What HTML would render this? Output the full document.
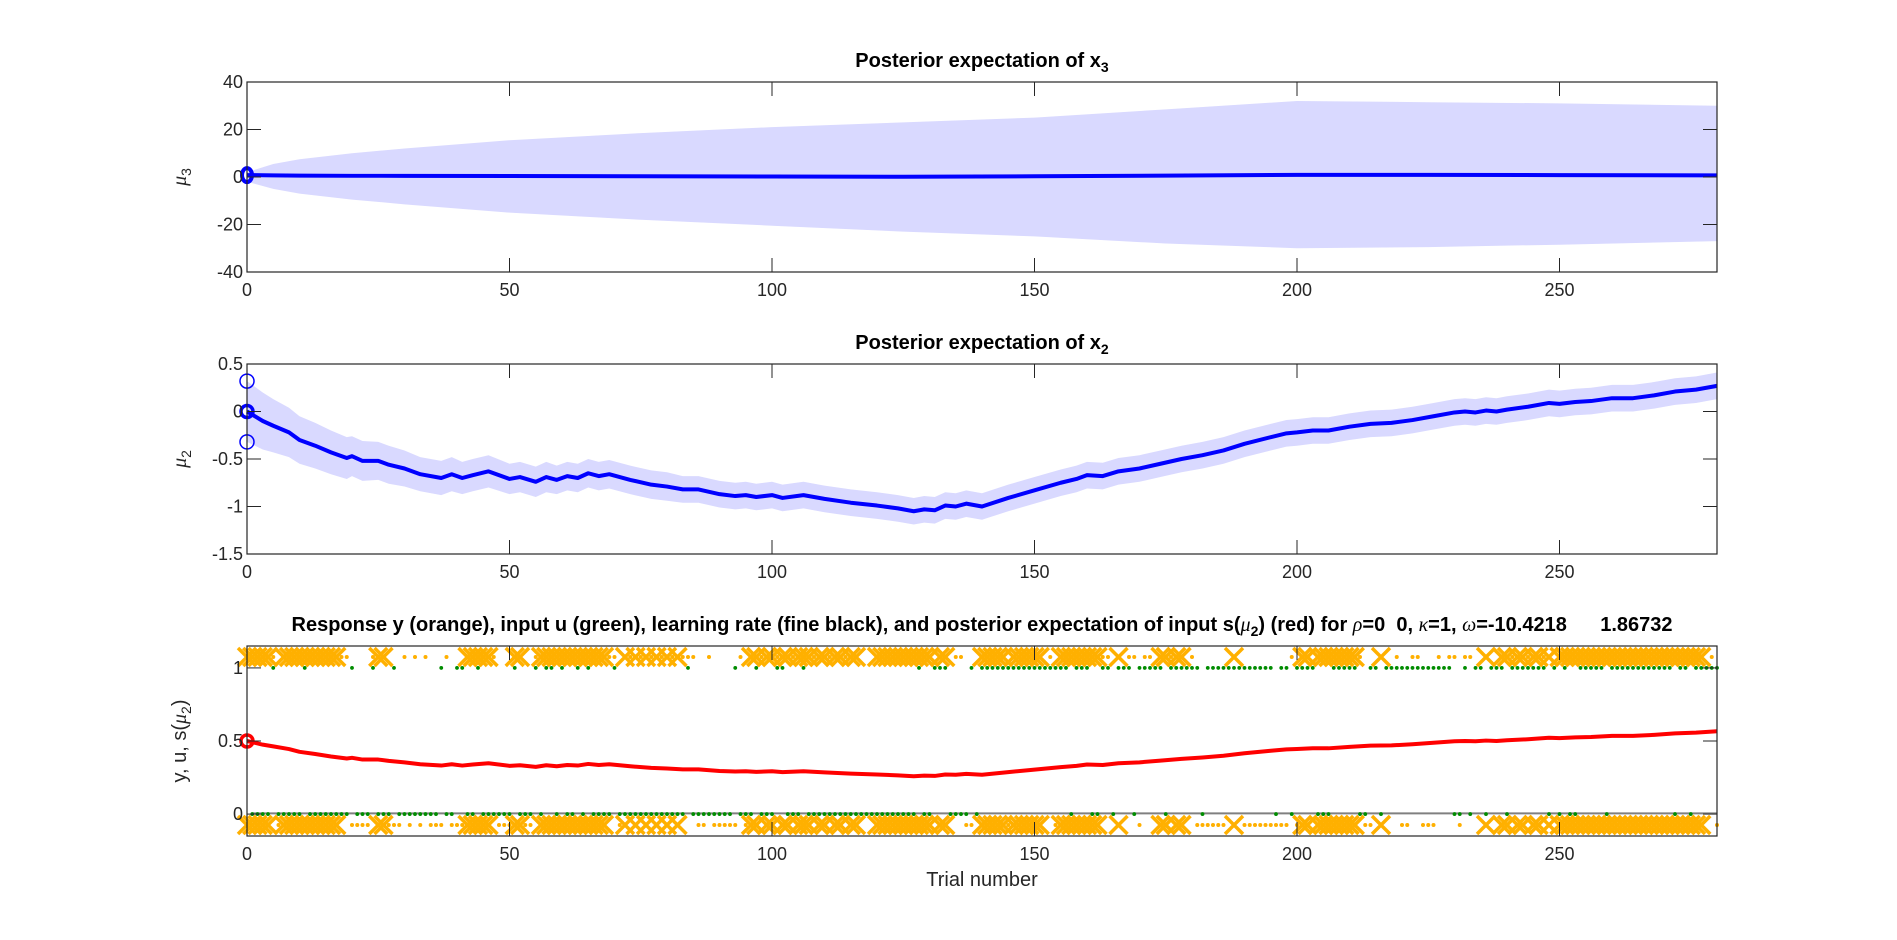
<!DOCTYPE html>
<html><head><meta charset="utf-8"><style>
html,body{margin:0;padding:0;background:#fff;}
svg{display:block;font-family:"Liberation Sans",Arial,sans-serif;}
</style></head><body>
<svg id="fig" width="1897" height="940" viewBox="0 0 1897 940" xmlns="http://www.w3.org/2000/svg"></svg>
<script>
// ---- data ----
const xTicks = [0, 50, 100, 150, 200, 250];
const p1YTicks = [40, 20, 0, -20, -40];
const p2YTicks = [0.5, 0, -0.5, -1, -1.5];
const p3YTicks = [0, 0.5, 1];
const p3YTickLabels = ['0', '0.5', '1'];

const trialKeys = [0,3,5,8,10,13,16,19,20,22,25,27,30,33,37,39,41,43,46,50,52,55,57,59,61,63,65,67,69,73,77,80,83,86,90,93,95,97,100,102,106,110,115,120,124,127,129,131,133,135,137,140,145,150,155,158,160,163,166,170,174,178,182,186,190,195,198,200,203,206,210,214,218,222,226,230,232,234,236,238,240,244,248,250,253,256,260,264,268,272,276,280];
const mu2 = [0,-0.1,-0.15,-0.22,-0.3,-0.36,-0.43,-0.49,-0.47,-0.52,-0.52,-0.56,-0.6,-0.66,-0.7,-0.66,-0.7,-0.67,-0.63,-0.71,-0.69,-0.74,-0.69,-0.72,-0.68,-0.7,-0.65,-0.68,-0.66,-0.72,-0.77,-0.79,-0.82,-0.82,-0.87,-0.89,-0.88,-0.9,-0.88,-0.91,-0.88,-0.92,-0.96,-0.99,-1.02,-1.05,-1.03,-1.04,-0.99,-1.0,-0.97,-1.0,-0.91,-0.83,-0.75,-0.71,-0.67,-0.68,-0.63,-0.6,-0.55,-0.5,-0.46,-0.41,-0.34,-0.27,-0.23,-0.22,-0.2,-0.2,-0.16,-0.13,-0.12,-0.09,-0.05,-0.01,0.0,-0.01,0.01,0.0,0.02,0.05,0.09,0.08,0.1,0.11,0.14,0.14,0.17,0.21,0.23,0.27];
const mu2Sd = [0.32,0.3,0.28,0.26,0.25,0.24,0.23,0.22,0.21,0.21,0.2,0.2,0.19,0.18,0.18,0.18,0.17,0.17,0.17,0.16,0.16,0.16,0.16,0.15,0.15,0.15,0.15,0.15,0.15,0.15,0.15,0.15,0.14,0.14,0.14,0.14,0.14,0.14,0.14,0.14,0.14,0.14,0.14,0.14,0.14,0.14,0.14,0.14,0.14,0.14,0.14,0.14,0.14,0.14,0.14,0.14,0.14,0.14,0.14,0.14,0.14,0.14,0.14,0.14,0.14,0.14,0.14,0.14,0.14,0.14,0.14,0.14,0.14,0.14,0.14,0.14,0.14,0.14,0.14,0.14,0.14,0.14,0.14,0.14,0.14,0.14,0.14,0.14,0.14,0.14,0.14,0.14];
const sMu2 = [0.5,0.475,0.463,0.445,0.426,0.411,0.394,0.38,0.385,0.373,0.373,0.364,0.354,0.341,0.332,0.341,0.332,0.339,0.348,0.33,0.334,0.323,0.334,0.327,0.336,0.332,0.343,0.336,0.341,0.327,0.316,0.312,0.306,0.306,0.295,0.291,0.293,0.289,0.293,0.287,0.293,0.285,0.277,0.271,0.265,0.259,0.263,0.261,0.271,0.269,0.275,0.269,0.287,0.304,0.321,0.33,0.339,0.336,0.348,0.354,0.366,0.378,0.387,0.399,0.416,0.433,0.443,0.445,0.45,0.45,0.46,0.468,0.47,0.478,0.488,0.498,0.5,0.498,0.503,0.5,0.505,0.512,0.522,0.52,0.525,0.527,0.535,0.535,0.542,0.552,0.557,0.567];

const mu3Keys = [0,5,10,20,30,50,75,100,125,150,175,200,225,250,280];
const mu3 = [0.8,0.7,0.6,0.5,0.5,0.4,0.3,0.2,0.1,0.3,0.6,0.9,0.9,0.8,0.7];
const mu3Upper = [2,5.5,7.5,10,12,15.5,18.5,21,23,25,28.5,32,31.5,31,30];
const mu3Lower = [-2,-5,-7,-9.5,-11.5,-15,-18,-20.5,-23,-25,-28,-30,-29.5,-28.5,-27];

// orange response codes per trial: X = cross at both levels, 1 = dot at top, 0 = dot at bottom, - = none
const respSegments = ["XXXXX","1","0","XXXXXXXXXXX","11","0000","1","XX","000","10101","000","1","000","XXXXX","1","000","XX","00","1","XXXXXXXXXXXXX","11","0","X1X1X1X1X1X1","11","00","1","00000","1","0","XX1XX1XX1XX","X1XX1XX1XX","---","XXXXXXXXXXX","-","XX","-","11","00","-","XXXXX","0","XXXXX","X","-","1","0","XXXXXXXX","11","-","X","-","11","0","11","-","XX1XX","-","1","000000","-","X","-","000000000","1","0","XX","-X","XXXXXXX","1","00","-","X","--","1","00","11","000","1","-","11","0","11","--","X","--","XX1XX1XX1X","-","XXXXXXXXXXXXXXXXXXXXXXXXXXXX","-","1","0"];
// input u = 1 trials in first half, u = 0 trials in second half
const uOneEarly = [5,11,20,24,28,37,40,41,44,51,55,57,58,60,63,65,70,84,93,97,101,102,106,128,131,132,133,138];
const uZeroLate = [157,161,162,165,169,175,182,196,199,204,205,206,212,213,216,230,231,233,236,240,248,250,252,253,259,272,275];

// ---- layout ----
const NS = 'http://www.w3.org/2000/svg';
const svg = document.getElementById('fig');
const X0 = 247, X1 = 1717;
const TICK_FS = 18, TITLE_FS = 20, SUB_FS = 14;
const xs = t => X0 + (t / 280) * (X1 - X0);
function mk(tag, attrs, parent) {
  const e = document.createElementNS(NS, tag);
  for (const k in attrs) e.setAttribute(k, attrs[k]);
  (parent || svg).appendChild(e);
  return e;
}
const panels = [
  {top: 82, bot: 272, min: -40, max: 40},
  {top: 364, bot: 554, min: -1.5, max: 0.5},
  {top: 646, bot: 836, min: -0.15, max: 1.15}
];
function ys(p, v) { return p.bot - (v - p.min) / (p.max - p.min) * (p.bot - p.top); }

function axes(p, yTicks, yLabels, name) {
  const g = mk('g', {});
  
  
  xTicks.forEach(t => {
    const x = xs(t);
    mk('line', {x1: x, y1: p.bot, x2: x, y2: p.bot - 14, stroke: '#262626', 'stroke-width': 1}, g);
    mk('line', {x1: x, y1: p.top, x2: x, y2: p.top + 14, stroke: '#262626', 'stroke-width': 1}, g);
    const tx = mk('text', {x: x, y: p.bot + 24, 'text-anchor': 'middle', 'font-size': TICK_FS, fill: '#262626'}, g);
    tx.textContent = t;
    
    
  });
  yTicks.forEach((v, i) => {
    const y = ys(p, v);
    mk('line', {x1: X0, y1: y, x2: X0 + 14, y2: y, stroke: '#262626', 'stroke-width': 1}, g);
    mk('line', {x1: X1, y1: y, x2: X1 - 14, y2: y, stroke: '#262626', 'stroke-width': 1}, g);
    const tx = mk('text', {x: X0 - 4, y: y + 6, 'text-anchor': 'end', 'font-size': TICK_FS, fill: '#262626'}, g);
    tx.textContent = yLabels ? yLabels[i] : v;
    
    
  });
  const r = mk('rect', {x: X0, y: p.top, width: X1 - X0, height: p.bot - p.top, fill: 'none', stroke: '#262626', 'stroke-width': 1.2}, g);
  
  
}
function title(y, html, name) {
  const t = mk('text', {x: 982, y: y, 'text-anchor': 'middle', 'font-size': TITLE_FS, 'font-weight': 'bold', fill: '#000'});
  t.innerHTML = html;
  
  
  return t;
}
function ylab(x, y, html, name) {
  const t = mk('text', {x: x, y: y, 'text-anchor': 'middle', 'font-size': 20, fill: '#262626', transform: `rotate(-90 ${x} ${y})`});
  t.innerHTML = html;
  
  
}

// ---- panel 1 ----
const P1 = panels[0];
{
  let d = '';
  mu3Keys.forEach((t, i) => { d += (i ? 'L' : 'M') + xs(t) + ' ' + ys(P1, mu3Upper[i]); });
  for (let i = mu3Keys.length - 1; i >= 0; i--) d += 'L' + xs(mu3Keys[i]) + ' ' + ys(P1, mu3Lower[i]);
  const band = mk('path', {d: d + 'Z', fill: '#d9d9ff', stroke: 'none'});
  
  
  const line = mk('polyline', {points: mu3Keys.map((t, i) => xs(t) + ',' + ys(P1, mu3[i])).join(' '), fill: 'none', stroke: '#0000ff', 'stroke-width': 4});
  
  
  const c = mk('ellipse', {cx: xs(0), cy: ys(P1, mu3[0]), rx: 5, ry: 7, fill: 'none', stroke: '#0000ff', 'stroke-width': 4});
  
  
}
axes(P1, p1YTicks, null, 'mu3-panel');
title(67, 'Posterior expectation of x<tspan font-size="' + SUB_FS + '" dy="5">3</tspan>', 'mu3-title');
ylab(186, 177, '<tspan font-family="Liberation Serif" font-style="italic">μ</tspan><tspan font-size="' + SUB_FS + '" dy="5">3</tspan>', 'mu3-y-axis-title');

// ---- panel 2 ----
const P2 = panels[1];
{
  let d = '';
  trialKeys.forEach((t, i) => { d += (i ? 'L' : 'M') + xs(t) + ' ' + ys(P2, mu2[i] + mu2Sd[i]); });
  for (let i = trialKeys.length - 1; i >= 0; i--) d += 'L' + xs(trialKeys[i]) + ' ' + ys(P2, mu2[i] - mu2Sd[i]);
  const band = mk('path', {d: d + 'Z', fill: '#d9d9ff', stroke: 'none'});
  
  
  const line = mk('polyline', {points: trialKeys.map((t, i) => xs(t) + ',' + ys(P2, mu2[i])).join(' '), fill: 'none', stroke: '#0000ff', 'stroke-width': 4, 'stroke-linejoin': 'round'});
  
  
  [mu2Sd[0], -mu2Sd[0]].forEach(v => {
    const c = mk('circle', {cx: xs(0), cy: ys(P2, v), r: 7, fill: 'none', stroke: '#0000ff', 'stroke-width': 1.5});
    
    
  });
  const c0 = mk('circle', {cx: xs(0), cy: ys(P2, mu2[0]), r: 6, fill: 'none', stroke: '#0000ff', 'stroke-width': 3.5});
  
  
}
axes(P2, p2YTicks, null, 'mu2-panel');
title(349, 'Posterior expectation of x<tspan font-size="' + SUB_FS + '" dy="5">2</tspan>', 'mu2-title');
ylab(186, 459, '<tspan font-family="Liberation Serif" font-style="italic">μ</tspan><tspan font-size="' + SUB_FS + '" dy="5">2</tspan>', 'mu2-y-axis-title');

// ---- panel 3 ----
const P3 = panels[2];
{
  const resp = respSegments.join('');
  const yTop = ys(P3, 1.075), yBot = ys(P3, -0.075);
  const gOr = mk('g', {fill: '#ffb000', stroke: '#ffb000'});
  
  
  for (let t = 0; t < resp.length && t <= 280; t++) {
    const ch = resp[t], x = xs(t);
    if (ch === 'X') {
      [yTop, yBot].forEach(y => {
        const p = mk('path', {d: `M${x-9} ${y-9}L${x+9} ${y+9}M${x-9} ${y+9}L${x+9} ${y-9}`, 'stroke-width': 3.5, fill: 'none'}, gOr);
        
        
      });
    } else if (ch === '1' || ch === '0') {
      const c = mk('circle', {cx: x, cy: ch === '1' ? yTop : yBot, r: 2, stroke: 'none'}, gOr);
      
      
    }
  }
  const lr = mk('line', {x1: xs(1), y1: ys(P3, 0.005), x2: X1, y2: ys(P3, 0.005), stroke: '#808080', 'stroke-width': 2});
  
  
  const gGr = mk('g', {fill: '#008c00'});
  
  
  for (let t = 1; t <= 280; t++) {
    const u = t < 140 ? (uOneEarly.includes(t) ? 1 : 0) : (uZeroLate.includes(t) ? 0 : 1);
    const c = mk('circle', {cx: xs(t), cy: ys(P3, u), r: 1.9}, gGr);
    
    
  }
  const line = mk('polyline', {points: trialKeys.map((t, i) => xs(t) + ',' + ys(P3, sMu2[i])).join(' '), fill: 'none', stroke: '#ff0000', 'stroke-width': 4, 'stroke-linejoin': 'round'});
  
  
  const c = mk('circle', {cx: xs(0), cy: ys(P3, sMu2[0]), r: 6, fill: 'none', stroke: '#ff0000', 'stroke-width': 3.5});
  
  
}
axes(P3, p3YTicks, p3YTickLabels, 'response-panel');
const t3 = title(631, 'Response y (orange), input u (green), learning rate (fine black), and posterior expectation of input s(<tspan font-family="Liberation Serif" font-style="italic" font-weight="normal">μ</tspan><tspan font-size="' + SUB_FS + '" dy="5">2</tspan><tspan dy="-5">) (red) for </tspan><tspan font-family="Liberation Serif" font-style="italic" font-weight="normal">ρ</tspan>=0  0, <tspan font-family="Liberation Serif" font-style="italic" font-weight="normal">κ</tspan>=1, <tspan font-family="Liberation Serif" font-style="italic" font-weight="normal">ω</tspan>=-10.4218      1.86732', 'response-title');
t3.setAttribute('xml:space', 'preserve');
t3.style.whiteSpace = 'pre';
ylab(186, 741, 'y, u, s(<tspan font-family="Liberation Serif" font-style="italic">μ</tspan><tspan font-size="' + SUB_FS + '" dy="5">2</tspan><tspan dy="-5">)</tspan>', 'response-y-axis-title');
const xl = mk('text', {x: 982, y: 886, 'text-anchor': 'middle', 'font-size': 20, fill: '#262626'});
xl.textContent = 'Trial number';


</script>
</body></html>
